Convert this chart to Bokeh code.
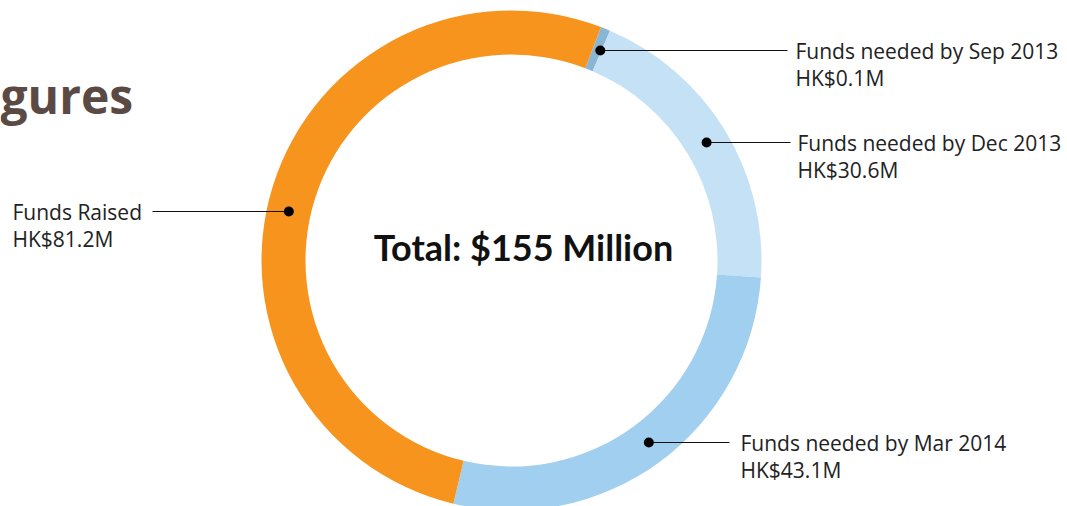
import numpy as np
from bokeh.plotting import figure
from bokeh.models import Range1d
from bokeh.embed import file_html
from bokeh.resources import INLINE
from bokeh.core.properties import value

# ---- data ----
categories = ["Funds needed by Sep 2013", "Funds needed by Dec 2013",
              "Funds needed by Mar 2014", "Funds Raised"]
amounts = [0.1, 30.6, 43.1, 81.2]          # HK$ million
amount_labels = ["HK$0.1M", "HK$30.6M", "HK$43.1M", "HK$81.2M"]
colors = ["#8AB6D6", "#C5E1F5", "#A1CFEF", "#F7941E"]
total_label = "Total: $155 Million"
title_text = "gures"

# ---- layout (page pixel coordinates) ----
W, H = 1067, 506
CX, CY = 511, 260
R_OUT, R_IN = 250, 206
R_MID = (R_OUT + R_IN) / 2
START_DEG = 21.0        # clockwise from 12 o'clock
MIN_DEG = 2.2           # minimum visible slice
label_y = [50, 142, 442, 211]
label_text_x = [795, 797, 740, 12]
line_end_x = [787, 790, 729, 152]
LINE_GAP = 27

p = figure(width=W, height=H, output_backend="svg", toolbar_location=None,
           x_range=Range1d(0, W), y_range=Range1d(-H, 0),
           min_border=0, outline_line_color=None)
p.axis.visible = False
p.grid.visible = False
p.background_fill_color = "white"
p.border_fill_color = "white"

vals = np.array(amounts, dtype=float)
deg = vals / vals.sum() * 360.0
small = deg < MIN_DEG
deg[small] = MIN_DEG
rest = 360.0 - MIN_DEG * small.sum()
deg[~small] = vals[~small] / vals[~small].sum() * rest
cum = START_DEG + np.concatenate([[0.0], np.cumsum(deg)])
s_cw, e_cw = cum[:-1], cum[1:]
start_angle = np.radians(90.0 - s_cw)
end_angle = np.radians(90.0 - e_cw)

p.annular_wedge(x=CX, y=-CY, inner_radius=R_IN, outer_radius=R_OUT,
                start_angle=start_angle, end_angle=end_angle,
                direction="clock", fill_color=colors, line_color=None)

# leader dots / lines
mid = np.radians((s_cw + e_cw) / 2.0)
side = np.sign(np.sin(mid))
dy = np.array(label_y, dtype=float) - CY
dx = np.sqrt(np.maximum(R_MID ** 2 - dy ** 2, 0)) * side
dot_x = CX + dx
dot_y = -np.array(label_y, dtype=float)

p.segment(x0=dot_x, y0=dot_y, x1=line_end_x, y1=dot_y,
          line_color="#111111", line_width=1.2)
p.scatter(x=dot_x, y=dot_y, size=10, marker="circle",
          fill_color="#000000", line_color=None)

lf = value("Open Sans")
p.text(x=label_text_x, y=dot_y, text=categories, text_font=lf,
       text_font_size="21px", text_color="#222222",
       text_baseline="middle", text_align="left")
p.text(x=label_text_x, y=dot_y - LINE_GAP, text=amount_labels, text_font=lf,
       text_font_size="21px", text_color="#222222",
       text_baseline="middle", text_align="left")

p.text(x=[CX + 12], y=[-246], text=[total_label], text_font=value("Lato"),
       text_font_size="36px", text_font_style="bold", text_color="#111111",
       text_baseline="middle", text_align="center")

p.text(x=[0], y=[-95], text=[title_text], text_font=value("Open Sans"),
       text_font_size="48px", text_font_style="bold", text_color="#5B4A43",
       text_baseline="alphabetic", text_align="left")

open("out.html", "w").write(file_html(p, INLINE))
